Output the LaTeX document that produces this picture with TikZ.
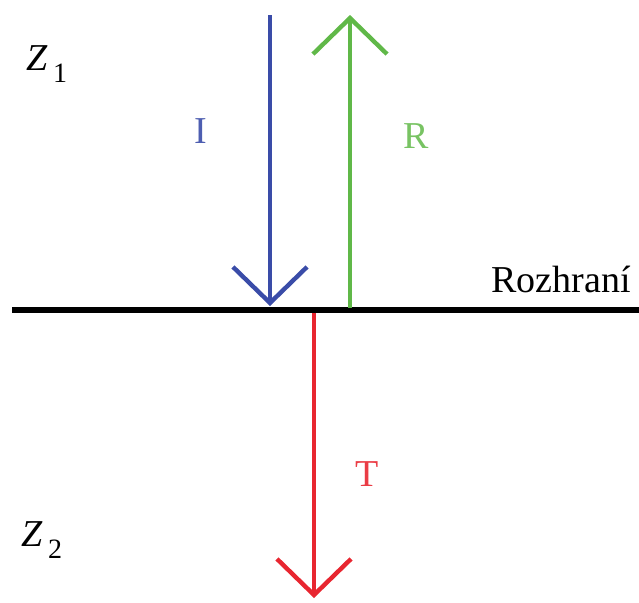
\documentclass[tikz,border=0pt]{standalone}
\usepackage{fontspec}
\setmainfont{Liberation Serif}
\usetikzlibrary{arrows.meta, positioning}
\definecolor{incblue}{RGB}{58,76,168}
\definecolor{refgreen}{RGB}{96,184,72}
\definecolor{trared}{RGB}{232,38,48}

\begin{document}
\begin{tikzpicture}[
    x=0.5pt, y=-0.5pt,
    wave/.style={line width=2.2pt, -{Straight Barb[length=18pt, width=37pt, line width=2.2pt]}},
    label/.style={font=\fontsize{19}{19}\selectfont, inner sep=0pt},
    medium/.style={font=\fontsize{19}{19}\selectfont, inner sep=0pt}
]
\useasboundingbox (0,0) rectangle (639,602);
% interface
\coordinate (left) at (12,310);
\coordinate (right) at (639,310);
\draw [line width=3pt] (left) -- (right);
\node [medium, anchor=south east] (iface) at (631,293) {Rozhraní};
% media
\node [medium] (zone) at (47,64) {\textit{Z}\raisebox{-0.7ex}{\fontsize{14}{14}\selectfont\,1}};
\node [medium] (ztwo) at (42,540) {\textit{Z}\raisebox{-0.7ex}{\fontsize{14}{14}\selectfont\,2}};
% waves
\coordinate (itop) at (270,15);
\coordinate (ibot) at (270,306);
\coordinate (rbot) at (350,308);
\coordinate (rtop) at (350,15);
\coordinate (ttop) at (314,313);
\coordinate (tbot) at (314,598);
\draw [wave, incblue] (itop) -- (ibot);
\draw [wave, refgreen] (rbot) -- (rtop);
\draw [wave, trared] (ttop) -- (tbot);
\node [label, text=incblue!90] (inc) at (201,131) {I};
\node [label, text=refgreen!85] (refl) at (416,136) {R};
\node [label, text=trared!90] (tra) at (367,474) {T};
\end{tikzpicture}
\end{document}
